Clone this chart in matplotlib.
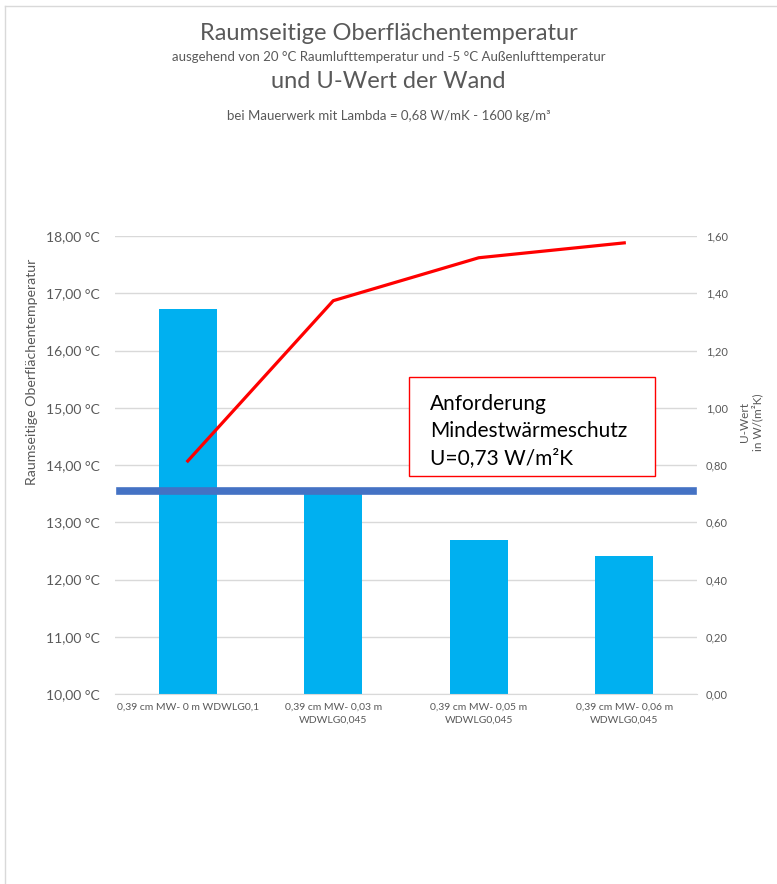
import matplotlib.pyplot as plt
from matplotlib.patches import Rectangle
from matplotlib.lines import Line2D

plt.rcParams['font.family'] = ['Lato', 'DejaVu Sans']

# Daten
kategorien = ["0,39 cm MW- 0 m WDWLG0,1",
              "0,39 cm MW- 0,03 m\nWDWLG0,045",
              "0,39 cm MW- 0,05 m\nWDWLG0,045",
              "0,39 cm MW- 0,06 m\nWDWLG0,045"]
u_wert = [1.345, 0.70, 0.538, 0.482]          # W/(m²K), Balken
oberflaechentemp = [14.07, 16.87, 17.62, 17.88]  # °C, Linie
u_anforderung = 0.71

links_ticks = [10, 11, 12, 13, 14, 15, 16, 17, 18]
rechts_ticks = [0.0, 0.2, 0.4, 0.6, 0.8, 1.0, 1.2, 1.4, 1.6]

grau = "#595959"

fig = plt.figure(figsize=(7.77, 8.84), dpi=100)
W, H = 777, 884
ax = fig.add_axes([115 / W, 1 - 694 / H, 582 / W, 458 / H])
ax2 = ax.twinx()

x = range(len(kategorien))

# Balken auf rechter Achse
ax2.bar(x, u_wert, width=0.4, color="#00B0F0", zorder=2)
ax2.set_ylim(0, 1.6)
ax2.set_yticks(rechts_ticks)
ax2.set_yticklabels([f"{v:.2f}".replace(".", ",") for v in rechts_ticks])
ax2.grid(axis="y", color="#D9D9D9", linewidth=1)
ax2.set_axisbelow(True)
ax2.axhline(u_anforderung, xmin=5 / 582, xmax=578 / 582, color="#4472C4",
            linewidth=5.5, zorder=3)

# Linie auf linker Achse
ax.set_zorder(ax2.get_zorder() + 1)
ax.patch.set_visible(False)
ax.plot(x, oberflaechentemp, color="#FF0000", linewidth=2.3, zorder=4)
ax.set_ylim(10, 18)
ax.set_xlim(-0.5, 3.5)
ax.set_yticks(links_ticks)
ax.set_yticklabels([f"{v:.2f} °C".replace(".", ",") for v in links_ticks])
ax.set_xticks(list(x))
ax.set_xticklabels(kategorien, linespacing=1.6)

for a in (ax, ax2):
    for s in a.spines.values():
        s.set_visible(False)
    a.tick_params(length=0, colors=grau)
ax.spines["bottom"].set_visible(True)
ax.spines["bottom"].set_color("#D9D9D9")
ax.tick_params(axis="y", labelsize=10, pad=11)
ax2.tick_params(axis="y", labelsize=8, pad=6.5)
ax.tick_params(axis="x", labelsize=7.5, pad=6)

# Textfeld Anforderung
ax.add_patch(Rectangle(((409 - 115) / 582, (694 - 476) / 458),
                       246 / 582, 99 / 458, transform=ax.transAxes,
                       facecolor="white", edgecolor="#FF0000", linewidth=1,
                       zorder=5))
ax.text((430 - 115) / 582, (694 - 431) / 458,
        "Anforderung\nMindestwärmeschutz\nU=0,73 W/m²K",
        transform=ax.transAxes, fontsize=15, va="center", ha="left",
        linespacing=1.42, color="black", zorder=6)

# Achsentitel
fig.text(32 / W, 1 - 372 / H, "Raumseitige Oberflächentemperatur",
         rotation=90, ha="center", va="center", fontsize=10.2, color=grau)
fig.text(751 / W, 1 - 422 / H, "U-Wert\nin W/(m²K)", rotation=90,
         ha="center", va="center", fontsize=8.5, color=grau, linespacing=1.1)

# Titel
fig.text(0.5, 1 - 33 / H, "Raumseitige Oberflächentemperatur",
         ha="center", va="center", fontsize=17, color=grau)
fig.text(0.5, 1 - 57 / H,
         "ausgehend von 20 °C Raumlufttemperatur und -5 °C Außenlufttemperatur",
         ha="center", va="center", fontsize=9.5, color=grau)
fig.text(0.5, 1 - 81 / H, "und U-Wert der Wand",
         ha="center", va="center", fontsize=17, color=grau)
fig.text(0.5, 1 - 116 / H, "bei Mauerwerk mit Lambda = 0,68 W/mK - 1600 kg/m³",
         ha="center", va="center", fontsize=9.5, color=grau)

# Rahmen
fig.add_artist(Line2D([5 / W, 5 / W], [0, 1 - 6 / H], transform=fig.transFigure,
                      color="#D9D9D9", linewidth=1))
fig.add_artist(Line2D([5 / W, 1], [1 - 6 / H, 1 - 6 / H], transform=fig.transFigure,
                      color="#D9D9D9", linewidth=1))

fig.savefig("out.png", dpi=100)
